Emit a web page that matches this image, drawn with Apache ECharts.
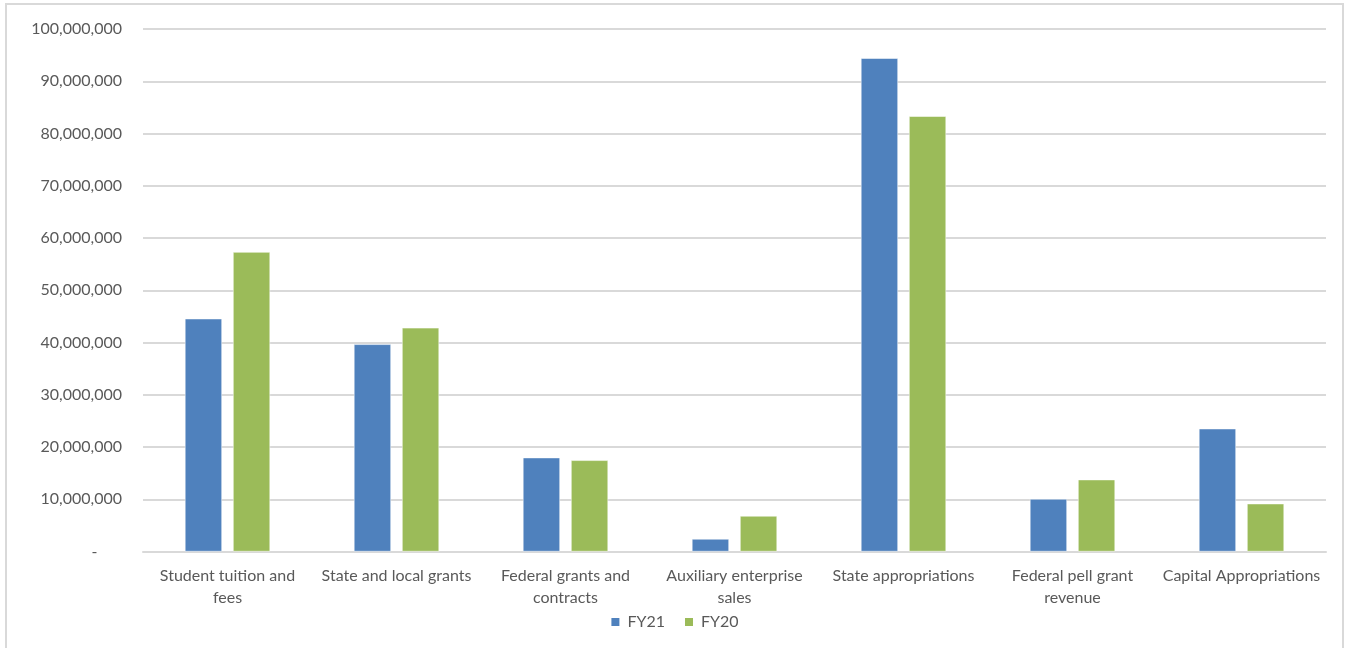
<!DOCTYPE html>
<html>
<head>
<meta charset="utf-8">
<script src="https://cdn.jsdelivr.net/npm/echarts@6/dist/echarts.min.js"></script>
<style>
html,body{margin:0;padding:0;background:#fff;}
#frame{position:absolute;left:5px;top:3px;width:1339px;height:660px;border:2px solid #d9d9d9;box-sizing:border-box;}
#chart{position:absolute;left:0;top:0;width:1348px;height:648px;}
</style>
</head>
<body>
<div id="frame"></div>
<div id="chart"></div>
<script>
const categories = ["Student tuition and\nfees", "State and local grants", "Federal grants and\ncontracts", "Auxiliary enterprise\nsales", "State appropriations", "Federal pell grant\nrevenue", "Capital Appropriations"];
const fy21 = [44550000, 39650000, 17960000, 2400000, 94400000, 10050000, 23500000];
const fy20 = [57300000, 42800000, 17450000, 6800000, 83300000, 13750000, 9150000];
const seriesNames = ["FY21", "FY20"];

const chart = echarts.init(document.getElementById('chart'));
const font = "Lato, 'Open Sans', sans-serif";
chart.setOption({
  animation: false,
  textStyle: {fontFamily: font},
  grid: {left: 143, right: 22, top: 29, bottom: 96.5, containLabel: false},
  legend: {
    data: seriesNames, bottom: 13, left: 'center', itemWidth: 10, itemHeight: 10, itemGap: 18,
    icon: 'rect',
    textStyle: {color: '#595959', fontSize: 16, fontFamily: font, padding: [0, 0, 0, 2]}
  },
  xAxis: {
    type: 'category', data: categories,
    axisLine: {lineStyle: {color: '#d9d9d9', width: 2}},
    axisTick: {show: false},
    axisLabel: {color: '#595959', fontSize: 16, margin: 13, lineHeight: 22, interval: 0, fontFamily: font}
  },
  yAxis: {
    type: 'value', min: 0, max: 100000000, interval: 10000000,
    axisLine: {show: false}, axisTick: {show: false},
    splitLine: {lineStyle: {color: '#d9d9d9', width: 2}},
    axisLabel: {
      color: '#595959', fontSize: 16, margin: 21, fontFamily: font,
      formatter: v => v === 0 ? '-      ' : v.toLocaleString('en-US')
    }
  },
  series: [
    {name: seriesNames[0], type: 'bar', data: fy21, barWidth: 37, barGap: '30%',
     itemStyle: {color: '#4F81BD', borderColor: '#fff', borderWidth: 0.5}},
    {name: seriesNames[1], type: 'bar', data: fy20, barWidth: 37,
     itemStyle: {color: '#9BBB59', borderColor: '#fff', borderWidth: 0.5}}
  ]
});
</script>
</body>
</html>
